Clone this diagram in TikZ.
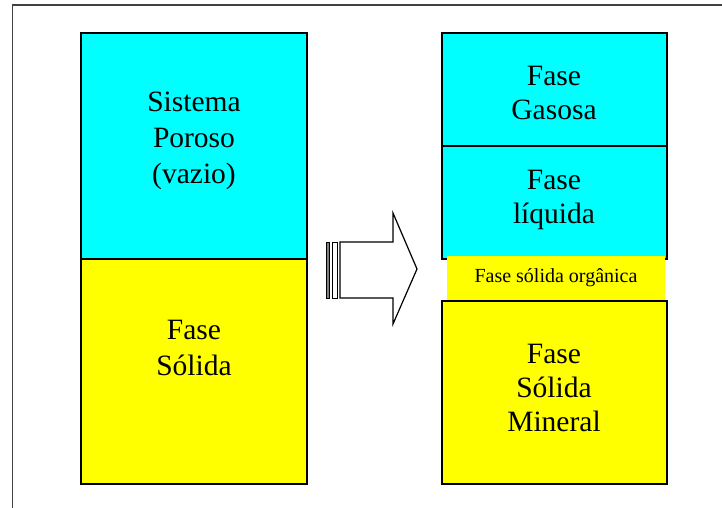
\documentclass[tikz,border=0pt]{standalone}
\usepackage{fontspec}
\setmainfont{Liberation Serif}
\definecolor{cy}{RGB}{0,255,255}
\definecolor{yl}{RGB}{255,255,0}
\begin{document}
\begin{tikzpicture}[x=1pt,y=-1pt,
  box/.style={draw=black,line width=1.6pt},
  lbl/.style={font=\fontsize{29.5}{36}\selectfont, align=center, inner sep=0pt},
  lblr/.style={font=\fontsize{29.5}{34}\selectfont, align=center, inner sep=0pt},
  small/.style={font=\fontsize{20}{22}\selectfont, inner sep=0pt}]
\useasboundingbox (0,0) rectangle (722,508);
\fill[white] (0,0) rectangle (722,508);
\draw[line width=1.5pt, draw=black!75] (12.5,508) -- (12.5,5) -- (722,5);
% left column
\filldraw[box, fill=cy] (81,33) rectangle (307,259);
\filldraw[box, fill=yl] (81,259) rectangle (307,484);
\node[lbl] (poroso) at (194,141) {Sistema\\Poroso\\(vazio)};
\node[lbl] (solida) at (194,348) {Fase\\Sólida};
% arrow
\filldraw[draw=black, fill=gray, line width=1pt] (326,242) rectangle (329.5,298);
\draw[draw=black, line width=1pt] (332.5,242) rectangle (337,298);
\draw[line width=1.2pt, fill=white, line join=miter] (340,242) -- (393,242) -- (393,213) -- (417,269) -- (393,324) -- (393,298) -- (340,298) -- cycle;
% right column
\filldraw[box, fill=cy] (442,33) rectangle (667,146);
\filldraw[box, fill=cy] (442,146) rectangle (667,259);
\filldraw[box, fill=yl] (442,301) rectangle (667,484);
\fill[yl] (447,256) rectangle (665,300);
\node[lblr] (gasosa) at (554,93) {Fase\\Gasosa};
\node[lblr] (liquida) at (554,200) {Fase\\líquida};
\node[small] (organica) at (556,278) {Fase sólida orgânica};
\node[lblr] (mineral) at (554,388) {Fase\\Sólida\\Mineral};
\end{tikzpicture}
\end{document}
